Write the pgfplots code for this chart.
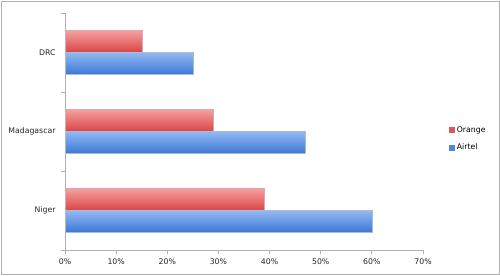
\documentclass[border=0pt]{standalone}
\usepackage{pgfplots}
\pgfplotsset{compat=1.18}
\usepackage{fontspec}
\setmainfont{DejaVu Sans}
\definecolor{axisgray}{HTML}{B0B0B0}
\definecolor{redTop}{HTML}{F7A0A0}
\definecolor{redBot}{HTML}{D84444}
\definecolor{blueTop}{HTML}{92B8F4}
\definecolor{blueBot}{HTML}{3C78D4}
\begin{document}
\begin{tikzpicture}[x=1bp,y=1bp]
\useasboundingbox (0,0) rectangle (500,275);
\begin{axis}[
  at={(65bp,25bp)}, anchor=south west,
  scale only axis,
  width=358bp, height=237bp,
  xbar, bar width=22bp,
  xmin=0, xmax=70,
  ymin=-0.5, ymax=2.5,
  xtick={0,10,...,70},
  xticklabel={\pgfmathprintnumber{\tick}\%},
  ytick={0,1,2},
  yticklabels={Niger,Madagascar,DRC},
  minor ytick={-0.5,0.5,1.5,2.5},
  axis x line*=bottom,
  axis y line*=left,
  axis line style={axisgray, line width=0.8pt, -},
  major tick length=4bp,
  minor tick length=4bp,
  tick align=outside,
  xtick style={draw=axisgray, line width=0.8pt},
  ytick style={draw=none},
  minor y tick style={draw=axisgray, line width=0.8pt},
  ticklabel style={font=\fontsize{7.8}{9}\selectfont, text=black!85},
  yticklabel style={xshift=-2bp},
  xticklabel style={yshift=-1bp},
  /pgf/number format/assume math mode=true,
  legend style={draw=none, fill=none, at={(1.065,0.47)}, anchor=west,
    font=\fontsize{7.8}{9}\selectfont, row sep=6bp,
    legend cell align=left},
  clip=false,
]
\addlegendimage{area legend, legend image code/.code={\fill[redBot!90] (0bp,-2.5bp) rectangle (5bp,2.5bp);}}
\addlegendentry{Orange}
\addlegendimage{area legend, legend image code/.code={\fill[blueBot!90] (0bp,-2.5bp) rectangle (5bp,2.5bp);}}
\addlegendentry{Airtel}
% Orange
\addplot[forget plot, draw=redBot!70!black!40, line width=0.3pt, bar shift=11bp, top color=redTop, bottom color=redBot] coordinates {(39,0)};
\addplot[forget plot, draw=redBot!70!black!40, line width=0.3pt, bar shift=11bp, top color=redTop, bottom color=redBot] coordinates {(29,1)};
\addplot[forget plot, draw=redBot!70!black!40, line width=0.3pt, bar shift=11bp, top color=redTop, bottom color=redBot] coordinates {(15,2)};
% Airtel
\addplot[forget plot, draw=blueBot!70!black!40, line width=0.3pt, bar shift=-11bp, top color=blueTop, bottom color=blueBot] coordinates {(60,0)};
\addplot[forget plot, draw=blueBot!70!black!40, line width=0.3pt, bar shift=-11bp, top color=blueTop, bottom color=blueBot] coordinates {(47,1)};
\addplot[forget plot, draw=blueBot!70!black!40, line width=0.3pt, bar shift=-11bp, top color=blueTop, bottom color=blueBot] coordinates {(25,2)};
\end{axis}
\draw[axisgray, line width=0.8pt] (1,1) rectangle (499,274);
\end{tikzpicture}
\end{document}
